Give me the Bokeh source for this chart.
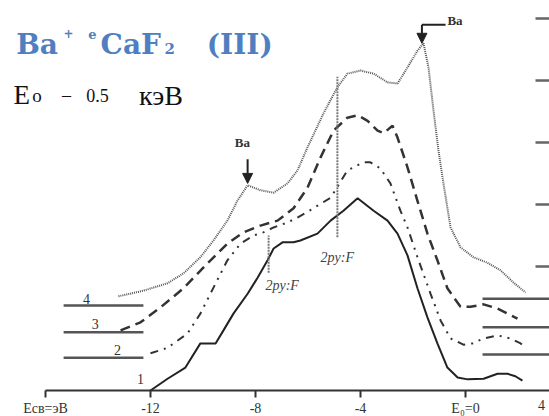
from bokeh.plotting import figure
from bokeh.models import Range1d, LinearAxis, FixedTicker, Label, Arrow, NormalHead
from bokeh.embed import file_html
from bokeh.resources import INLINE
from bokeh.core.properties import value

# ---- data (energy, eV ; intensity, arb. units) ----
x1 = [-12.0, -11.35, -10.67, -10.10, -9.52, -9.22, -8.84, -8.30, -7.92, -7.54, -7.31, -6.97, -6.55, -6.29, -5.64, -5.14, -4.65, -4.11, -3.50, -2.97, -2.59, -2.21, -1.83, -1.45, -1.07, -0.69, -0.30, 0.08, 0.69, 1.22, 1.60, 1.90, 2.17]
y1 = [0.0, 0.19, 0.37, 0.76, 0.76, 0.97, 1.24, 1.56, 1.82, 2.10, 2.29, 2.39, 2.39, 2.42, 2.53, 2.74, 2.90, 3.10, 2.90, 2.74, 2.53, 2.18, 1.65, 1.18, 0.76, 0.37, 0.21, 0.18, 0.19, 0.27, 0.27, 0.23, 0.16]

x2 = [-12.0, -11.35, -10.59, -10.10, -9.60, -9.07, -8.57, -8.08, -7.70, -7.31, -6.78, -6.40, -5.79, -5.14, -4.84, -4.50, -3.89, -3.62, -3.24, -2.86, -2.48, -2.21, -1.83, -1.33, -0.95, -0.57, -0.08, 0.27, 0.69, 1.22, 1.71, 2.10, 2.29]
y2 = [0.60, 0.69, 0.92, 1.24, 1.66, 2.10, 2.37, 2.50, 2.55, 2.63, 2.71, 2.79, 2.94, 3.11, 3.31, 3.55, 3.68, 3.68, 3.58, 3.34, 2.90, 2.63, 2.15, 1.56, 1.13, 0.84, 0.74, 0.76, 0.84, 0.89, 0.84, 0.76, 0.69]

x3 = [-13.14, -12.38, -11.62, -10.74, -9.83, -9.07, -8.46, -7.81, -7.16, -6.55, -6.02, -5.52, -5.03, -4.50, -4.11, -3.73, -3.35, -3.12, -2.78, -2.59, -2.21, -1.83, -1.45, -1.07, -0.69, -0.19, 0.19, 0.69, 1.22, 1.60, 1.98]
y3 = [0.97, 1.10, 1.34, 1.65, 2.05, 2.37, 2.55, 2.66, 2.74, 2.94, 3.27, 3.76, 4.19, 4.40, 4.44, 4.35, 4.19, 4.15, 4.27, 4.08, 3.60, 3.06, 2.53, 2.10, 1.65, 1.35, 1.35, 1.39, 1.32, 1.24, 1.16]

x4 = [-13.22, -12.27, -11.35, -10.74, -10.10, -9.60, -9.07, -8.69, -8.30, -7.81, -7.31, -6.78, -6.40, -6.02, -5.41, -4.88, -4.50, -4.00, -3.50, -2.97, -2.59, -2.21, -1.83, -1.60, -1.41, -1.22, -1.03, -0.84, -0.57, -0.19, 0.30, 0.84, 1.33, 1.83, 2.29]
y4 = [1.52, 1.61, 1.73, 1.89, 2.15, 2.42, 2.74, 3.06, 3.31, 3.23, 3.19, 3.34, 3.55, 3.92, 4.47, 4.89, 5.11, 5.16, 5.11, 4.97, 4.95, 5.21, 5.48, 5.60, 5.21, 4.52, 3.87, 3.34, 2.63, 2.31, 2.15, 2.06, 1.94, 1.74, 1.58]

# baselines of curves 2..4 (left and right)
left_base_y = [0.53, 0.94, 1.37]
left_base_x = [-15.31, -12.27]
right_base_y = [0.58, 1.02, 1.48]
right_base_x = [0.65, 3.2]

# curve numbers
num_text = ["1", "2", "3", "4"]
num_x = [-12.38, -13.26, -14.10, -14.44]
num_y = [0.19, 0.65, 1.08, 1.48]

# 2py:F markers
mark_x = [-7.50, -4.88]
mark_y0 = [1.90, 2.47]
mark_y1 = [2.50, 5.06]
mark_text = ["2py:F", "2py:F"]
mark_tx = [-7.62, -5.52]
mark_ty = [1.69, 2.15]

# Ba features
ba_left = (-8.30, 3.73, 3.34)     # x, arrow start y, arrow end y
ba_left_text = (-8.50, 4.0)
ba_right = (-1.66, 5.90, 5.60)
ba_right_bar_x = [-0.76, -1.66]
ba_right_text = (-0.69, 5.97)

x_ticks = [-16, -12, -8, -4, 0]
x_tick_labels = ["Eсв=эВ", "-12", "-8", "-4", "E₀=0"]
y_ticks = [2, 3, 4, 5, 6]

X0, X1 = -17.714, 3.2
Y0, Y1 = -0.419, 6.290

p = figure(width=549, height=416, x_range=Range1d(X0, X1), y_range=Range1d(Y0, Y1),
           output_backend="svg", toolbar_location=None,
           x_axis_location=None, y_axis_location=None, min_border=0)
p.outline_line_color = None
p.grid.grid_line_color = None
p.background_fill_color = "white"

xaxis = LinearAxis(ticker=FixedTicker(ticks=x_ticks),
                   major_label_overrides={t: l for t, l in zip(x_ticks, x_tick_labels)},
                   bounds=(-16, X1), fixed_location=0)
xaxis.axis_line_color = "#333333"
xaxis.axis_line_width = 2
xaxis.major_tick_line_color = "#333333"
xaxis.major_tick_line_width = 2
xaxis.major_tick_in = 0
xaxis.major_tick_out = 7
xaxis.minor_tick_in = 0
xaxis.minor_tick_out = 0
xaxis.major_label_standoff = 3
xaxis.major_label_text_font = "Liberation Serif"
xaxis.major_label_text_font_size = "14px"
xaxis.major_label_text_color = "#333333"
p.add_layout(xaxis, "below")

yaxis = LinearAxis(ticker=FixedTicker(ticks=y_ticks),
                   major_label_overrides={t: "" for t in y_ticks}, fixed_location=X1)
yaxis.axis_line_color = None
yaxis.major_tick_in = 14
yaxis.major_tick_out = 0
yaxis.major_tick_line_width = 2.5
yaxis.major_tick_line_color = "#666666"
yaxis.minor_tick_in = 0
yaxis.minor_tick_out = 0
yaxis.major_label_standoff = 0
yaxis.major_label_text_font_size = "0px"
p.add_layout(yaxis, "right")

# baselines
p.segment(x0=[left_base_x[0]] * 3, x1=[left_base_x[1]] * 3, y0=left_base_y, y1=left_base_y,
          line_color="#555555", line_width=2.5)
p.segment(x0=[right_base_x[0]] * 3, x1=[right_base_x[1]] * 3, y0=right_base_y, y1=right_base_y,
          line_color="#555555", line_width=2.5)

# curves
p.line(x1, y1, line_color="#222222", line_width=2)
p.line(x2, y2, line_color="#333333", line_width=2, line_dash="8 6 2 6 2 6")
p.line(x3, y3, line_color="#333333", line_width=2.5, line_dash="10 6")
p.line(x4, y4, line_color="#555555", line_width=2, line_dash="1 1")

# markers
p.segment(x0=mark_x, x1=mark_x, y0=mark_y0, y1=mark_y1, line_color="#777777",
          line_width=2, line_dash="2 1")
p.text(x=mark_tx, y=mark_ty, text=mark_text, text_font=value("Liberation Serif"),
       text_font_style="italic", text_font_size="14px", text_color="#444444",
       text_baseline="middle", text_align="left")

p.text(x=num_x, y=num_y, text=num_text, text_font=value("Liberation Serif"),
       text_font_size="14px", text_color="#333333", text_baseline="middle", text_align="center")

# Ba arrows
head = dict(size=10, fill_color="#222222", line_color="#222222")
p.add_layout(Arrow(end=NormalHead(**head), x_start=ba_left[0], y_start=ba_left[1],
                   x_end=ba_left[0], y_end=ba_left[2], line_width=2, line_color="#222222"))
p.line(ba_right_bar_x, [ba_right[1]] * 2, line_color="#222222", line_width=2)
p.add_layout(Arrow(end=NormalHead(**head), x_start=ba_right[0], y_start=ba_right[1],
                   x_end=ba_right[0], y_end=ba_right[2], line_width=2, line_color="#222222"))
p.add_layout(Label(x=ba_left_text[0], y=ba_left_text[1], text="Ba", text_font="Liberation Serif",
                   text_font_style="bold", text_font_size="13px", text_color="#333333",
                   text_align="center", text_baseline="middle"))
p.add_layout(Label(x=ba_right_text[0], y=ba_right_text[1], text="Ba", text_font="Liberation Serif",
                   text_font_style="bold", text_font_size="13px", text_color="#333333",
                   text_align="left", text_baseline="middle"))

# "4" label at right end of the axis
p.add_layout(Label(x=2.9, y=-0.16, text="4", text_font="Liberation Serif", text_font_size="14px",
                   text_color="#333333", text_align="center", text_baseline="top"))

# title lines
blue = "#4f7fc0"
def lab(x, y, t, size, bold=True, color=blue, font="DejaVu Serif", align="center"):
    p.add_layout(Label(x=x, y=y, text=t, text_font=font,
                       text_font_style="bold" if bold else "normal",
                       text_font_size=size, text_color=color,
                       text_align=align, text_baseline="alphabetic"))

lab(-16.32, 5.581, "Ba", "28px")
lab(-15.12, 5.758, "+", "12px")
lab(-14.21, 5.742, "e", "13px")
lab(-13.90, 5.581, "CaF", "28px", align="left")
lab(-11.47, 5.516, "2", "15px", align="left")
lab(-8.60, 5.581, "(III)", "28px")

black = "#111111"
lab(-17.22, 4.758, "E", "27px", bold=False, color=black, font="Liberation Serif", align="left")
lab(-16.50, 4.758, "o", "19px", bold=False, color=black, font="Liberation Serif", align="left")
lab(-15.20, 4.758, "–", "18px", bold=False, color=black, font="Liberation Serif")
lab(-14.02, 4.758, "0.5", "18px", bold=False, color=black, font="Liberation Serif")
lab(-11.60, 4.758, "кэВ", "28px", bold=False, color=black, font="Liberation Serif")

open("out.html", "w").write(file_html(p, INLINE))
